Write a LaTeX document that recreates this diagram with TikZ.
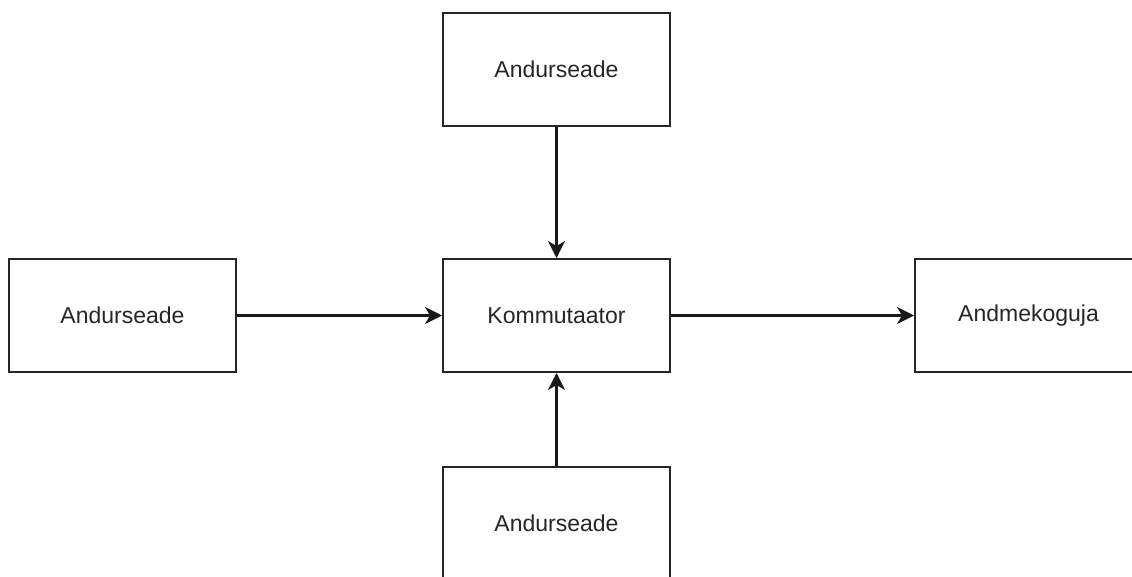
\documentclass[tikz,border=0pt]{standalone}
\usepackage{fontspec}
\setmainfont{Liberation Sans}
\usetikzlibrary{arrows.meta}
\begin{document}
\begin{tikzpicture}[x=1pt,y=-1pt,
  box/.style={draw=black!85,line width=2pt,minimum width=227pt,minimum height=113pt,inner sep=0pt,font=\fontsize{23}{27}\selectfont,text=black!85},
  conn/.style={draw=black!90,line width=2.2pt,-{Stealth[length=17pt,width=17pt,inset=5pt]}}]
\useasboundingbox (0,0) rectangle (1132,576);
\clip (0,0) rectangle (1132,576);
\node[box] (top) at (556.5,69.5) {Andurseade};
\node[box] (left) at (122.5,315.5) {Andurseade};
\node[box] (center) at (556.5,315.5) {Kommutaator};
\node[box] (right) at (1028.5,315.5) {Andmekoguja};
\node[box] (bottom) at (556.5,523.5) {Andurseade};
\draw[conn] (top) -- (center);
\draw[conn] (left) -- (center);
\draw[conn] (center) -- (right);
\draw[conn] (bottom) -- (center);
\end{tikzpicture}
\end{document}
